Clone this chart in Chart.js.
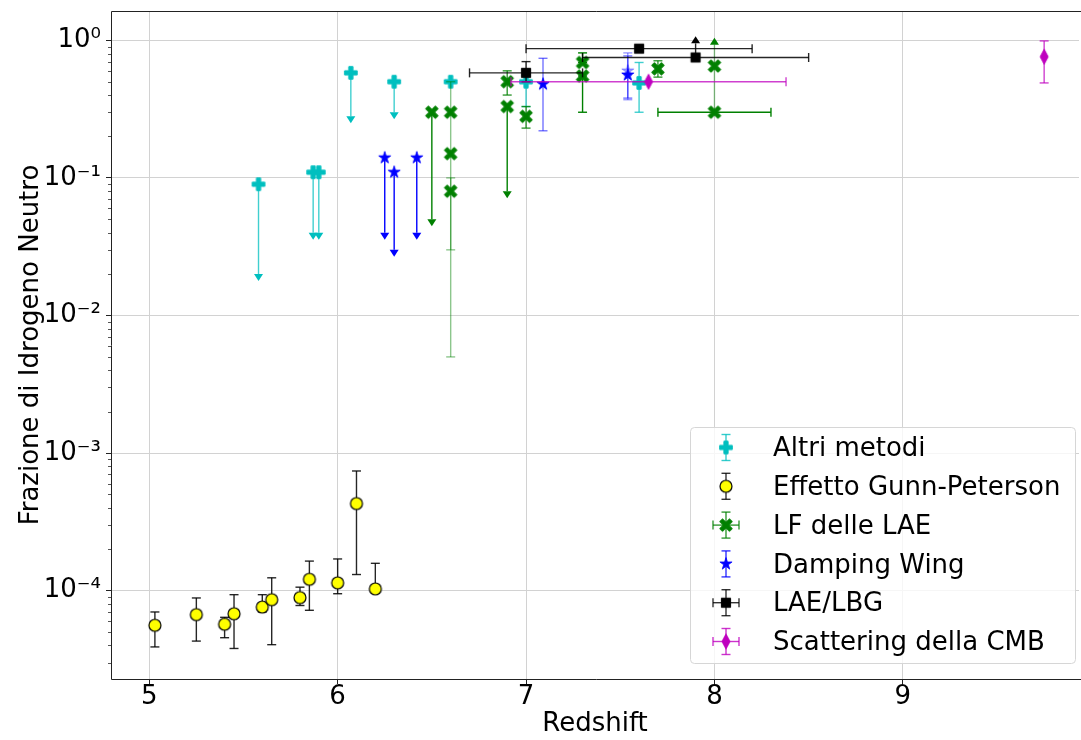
<!DOCTYPE html>
<html lang="it">
<head>
<meta charset="UTF-8">
<title>Frazione di Idrogeno Neutro vs Redshift</title>
<script src="https://cdn.jsdelivr.net/npm/chart.js"></script>
<style>
  html, body { margin: 0; padding: 0; background: #fff; overflow: hidden; }
  canvas { display: block; }
</style>
</head>
<body>
<canvas id="xhiChart" width="1081" height="740"></canvas>

<script>
  // ---- data: redshift, x_HI, errors (minus / plus), x-errors, limit flags ----
  // lim: 'upper' = upper limit (arrow down), 'lower' = lower limit (arrow up)

  // Altri metodi
  const altriZ   = [5.58, 5.87, 5.90, 6.07, 6.30, 6.60, 7.00, 7.60];
  const altriX   = [0.09, 0.11, 0.11, 0.58, 0.50, 0.50, 0.50, 0.49];
  const altriLo  = [0.07, 0.07, 0.07, 0.30, 0.20, 0,    0.17, 0.19];
  const altriHi  = [0,    0,    0,    0,    0,    0,    0.06, 0.20];
  const altriLim = ['upper', 'upper', 'upper', 'upper', 'upper', '', '', ''];

  // Effetto Gunn-Peterson
  const gpZ  = [5.03, 5.25, 5.40, 5.45, 5.60, 5.65, 5.80, 5.85, 6.00, 6.10, 6.20];
  const gpX  = [5.6e-5, 6.7e-5, 5.7e-5, 6.8e-5, 7.6e-5, 8.6e-5, 8.9e-5, 1.21e-4, 1.14e-4, 4.3e-4, 1.03e-4];
  const gpLo = [1.7e-5, 2.4e-5, 1.15e-5, 3.0e-5, 0.6e-5, 4.55e-5, 1.1e-5, 4.9e-5, 1.9e-5, 2.99e-4, 0.7e-5];
  const gpHi = [1.4e-5, 2.15e-5, 0.7e-5, 2.55e-5, 1.75e-5, 3.8e-5, 1.7e-5, 4.3e-5, 5.6e-5, 3.11e-4, 5.5e-5];

  // LF delle LAE
  const laeZ   = [6.5, 6.6, 6.6, 6.6, 6.9, 6.9, 7.0, 7.3, 7.3, 7.7, 8.0, 8.0];
  const laeX   = [0.30, 0.30, 0.15, 0.08, 0.50, 0.33, 0.28, 0.69, 0.55, 0.62, 0.65, 0.30];
  const laeLo  = [0.25, 0.295, 0, 0.05, 0.10, 0.25, 0.05, 0, 0.25, 0.08, 0.35, 0];
  const laeHi  = [0, 0.20, 0, 0.02, 0.10, 0, 0.05, 0.12, 0, 0.09, 0.28, 0];
  const laeXe  = [0, 0, 0, 0, 0, 0, 0, 0, 0, 0, 0, 0.3];
  const laeLim = ['upper', '', '', '', '', 'upper', '', '', '', '', 'lower', ''];

  // Damping Wing
  const dwZ   = [6.25, 6.30, 6.42, 7.09, 7.54, 7.54];
  const dwX   = [0.14, 0.11, 0.14, 0.48, 0.56, 0.60];
  const dwLo  = [0.10, 0.08, 0.10, 0.26, 0.18, 0.23];
  const dwHi  = [0,    0,    0,    0.26, 0.21, 0.21];
  const dwLim = ['upper', 'upper', 'upper', '', '', ''];

  // LAE/LBG
  const lbgZ   = [7.0, 7.6, 7.9];
  const lbgX   = [0.58, 0.87, 0.75];
  const lbgLo  = [0.08, 0, 0];
  const lbgHi  = [0.12, 0, 0.20];
  const lbgXe  = [0.3, 0.6, 0.6];
  const lbgLim = ['', '', 'lower'];

  // Scattering della CMB
  const cmbZ  = [7.65, 9.75];
  const cmbX  = [0.50, 0.76];
  const cmbLo = [0, 0.27];
  const cmbHi = [0, 0.23];
  const cmbXe = [0.73, 0];

  // axes
  const xTicks = [5, 6, 7, 8, 9];
  const yMajorTicks = [1e-4, 1e-3, 1e-2, 1e-1, 1];
  const yTickLabels = ['10\u207B\u2074', '10\u207B\u00B3', '10\u207B\u00B2', '10\u207B\u00B9', '10\u2070'];
  const X_MIN = 4.797, X_MAX = 9.935;
  const Y_MIN = 2.28e-5, Y_MAX = 1.633;

  // per-point opacity of the error bars
  const laeBarAlpha = [1, 0.45, 1, 0.45, 0.8, 1, 0.8, 1, 1, 0.8, 0.45, 1];
  const dwBarAlpha  = [1, 1, 1, 0.55, 0.55, 0.4];
  const dwFaint     = [false, false, false, false, false, true];

  const FONT = 'DejaVu Sans';
  Chart.defaults.font.family = FONT;
  Chart.defaults.font.size = 26;
  Chart.defaults.color = '#000';

  // ---- markers, drawn once on small canvases ----
  function makeMarker(paint, alpha) {
    const c = document.createElement('canvas');
    c.width = 20; c.height = 20;
    const g = c.getContext('2d');
    g.globalAlpha = alpha || 1;
    g.translate(10, 10);
    paint(g);
    return c;
  }

  function plusPath(g, half, arm) {
    g.beginPath();
    g.moveTo(-arm, -half); g.lineTo(arm, -half); g.lineTo(arm, -arm); g.lineTo(half, -arm);
    g.lineTo(half, arm); g.lineTo(arm, arm); g.lineTo(arm, half); g.lineTo(-arm, half);
    g.lineTo(-arm, arm); g.lineTo(-half, arm); g.lineTo(-half, -arm); g.lineTo(-arm, -arm);
    g.closePath();
  }

  function fillStroke(g, fill, stroke, lw) {
    g.fillStyle = fill; g.fill();
    g.strokeStyle = stroke; g.lineWidth = lw; g.lineJoin = 'miter'; g.stroke();
  }

  const plusMarker = makeMarker(g => { plusPath(g, 6.3, 2.1); fillStroke(g, '#00bfbf', '#00bfbf', 1); });
  const xMarker = makeMarker(g => { g.rotate(Math.PI / 4); plusPath(g, 6.8, 1.9); fillStroke(g, '#008000', '#008000', 1); });
  const circleMarker = makeMarker(g => { g.beginPath(); g.arc(0, 0, 6, 0, Math.PI * 2); fillStroke(g, '#ffff00', '#000', 1.2); });
  const squareMarker = makeMarker(g => { g.beginPath(); g.rect(-4.6, -4.6, 9.2, 9.2); fillStroke(g, '#000', '#000', 1); });
  const diamondMarker = makeMarker(g => {
    g.beginPath(); g.moveTo(0, -7.5); g.lineTo(4, 0); g.lineTo(0, 7.5); g.lineTo(-4, 0); g.closePath();
    fillStroke(g, '#bf00bf', '#bf00bf', 1);
  });
  function starPaint(g) {
    const R = 6.4, r = R * 0.382;
    g.beginPath();
    for (let k = 0; k < 10; k++) {
      const a = -Math.PI / 2 + k * Math.PI / 5;
      const rad = k % 2 ? r : R;
      g.lineTo(rad * Math.cos(a), rad * Math.sin(a));
    }
    g.closePath();
    fillStroke(g, '#0000ff', '#0000ff', 0.8);
  }
  const starMarker = makeMarker(starPaint);
  const starFaint = makeMarker(starPaint, 0.4);

  const series = [
    { label: 'Altri metodi', z: altriZ, v: altriX, lo: altriLo, hi: altriHi, lim: altriLim,
      marker: plusMarker, bar: '#00bfbf', alpha: 0.75 },
    { label: 'Effetto Gunn-Peterson', z: gpZ, v: gpX, lo: gpLo, hi: gpHi,
      marker: circleMarker, bar: '#000000', alpha: 0.85 },
    { label: 'LF delle LAE', z: laeZ, v: laeX, lo: laeLo, hi: laeHi, xe: laeXe, lim: laeLim,
      marker: xMarker, bar: '#008000', alpha: laeBarAlpha },
    { label: 'Damping Wing', z: dwZ, v: dwX, lo: dwLo, hi: dwHi, lim: dwLim,
      marker: starMarker, faint: dwFaint, bar: '#0000ff', alpha: dwBarAlpha },
    { label: 'LAE/LBG', z: lbgZ, v: lbgX, lo: lbgLo, hi: lbgHi, xe: lbgXe, lim: lbgLim,
      marker: squareMarker, bar: '#000000', alpha: 0.85 },
    { label: 'Scattering della CMB', z: cmbZ, v: cmbX, lo: cmbLo, hi: cmbHi, xe: cmbXe,
      marker: diamondMarker, bar: '#bf00bf', alpha: 0.75 }
  ];

  const pick = (a, i, d) => Array.isArray(a) ? a[i] : (a === undefined ? d : a);
  const isDecade = v => Math.abs(Math.log10(v) - Math.round(Math.log10(v))) < 1e-6;

  // ---- error bar helpers ----
  const CAP = 4.5;
  function seg(ctx, x1, y1, x2, y2) {
    ctx.beginPath(); ctx.moveTo(x1, y1); ctx.lineTo(x2, y2); ctx.stroke();
  }
  function capH(ctx, x, y) { seg(ctx, x - CAP, y, x + CAP, y); }
  function capV(ctx, x, y) { seg(ctx, x, y - CAP, x, y + CAP); }
  function arrowHead(ctx, x, y, dir) {
    // base sits on the bar end, tip points away (dir = 1 down, -1 up)
    ctx.save();
    ctx.globalAlpha = 1;
    ctx.beginPath();
    ctx.moveTo(x - 4.5, y); ctx.lineTo(x + 4.5, y); ctx.lineTo(x, y + dir * 7); ctx.closePath();
    ctx.fill();
    ctx.restore();
  }

  const errorBars = {
    id: 'errorBars',
    beforeDatasetDraw(chart, args) {
      const s = series[args.index];
      const xs = chart.scales.x, ys = chart.scales.y, ctx = chart.ctx;
      ctx.save();
      ctx.lineWidth = 1.4;
      ctx.strokeStyle = ctx.fillStyle = s.bar;
      s.z.forEach((z, i) => {
        ctx.globalAlpha = pick(s.alpha, i, 1);
        const px = xs.getPixelForValue(z);
        const py = ys.getPixelForValue(s.v[i]);
        const lo = s.lo[i], hi = s.hi[i];
        const lim = s.lim ? s.lim[i] : '';
        if (lo > 0 || hi > 0) {
          const yLo = ys.getPixelForValue(s.v[i] - lo);
          const yHi = ys.getPixelForValue(s.v[i] + hi);
          seg(ctx, px, yHi, px, yLo);
          if (lim === 'upper') {
            arrowHead(ctx, px, yLo, 1);
          } else if (lim === 'lower') {
            arrowHead(ctx, px, yHi, -1);
            if (lo > 0) capH(ctx, px, yLo);
          } else {
            capH(ctx, px, yLo);
            capH(ctx, px, yHi);
          }
        }
        const xe = s.xe ? s.xe[i] : 0;
        if (xe > 0) {
          const xL = xs.getPixelForValue(z - xe), xR = xs.getPixelForValue(z + xe);
          seg(ctx, xL, py, xR, py);
          capV(ctx, xL, py);
          capV(ctx, xR, py);
        }
      });
      ctx.restore();
    }
  };

  // spines (left, top, bottom) and minor ticks of the log axis
  const frame = {
    id: 'frame',
    afterDatasetsDraw(chart) {
      const {ctx, chartArea: a} = chart;
      const ys = chart.scales.y;
      ctx.save();
      ctx.strokeStyle = '#222';
      ctx.lineWidth = 1;
      ctx.beginPath();
      ctx.moveTo(a.right + 2, a.top + 0.5);
      ctx.lineTo(a.left + 0.5, a.top + 0.5);
      ctx.lineTo(a.left + 0.5, a.bottom + 0.5);
      ctx.lineTo(a.right + 2, a.bottom + 0.5);
      ctx.stroke();
      ctx.strokeStyle = '#555';
      ys.ticks.forEach(t => {
        if (isDecade(t.value)) return;
        const y = Math.round(ys.getPixelForValue(t.value)) + 0.5;
        seg(ctx, a.left - 3, y, a.left, y);
      });
      ctx.restore();
    }
  };

  // legend in the lower-right corner, with error-bar handles
  const legendBox = {
    id: 'legendBox',
    afterDraw(chart) {
      const {ctx, chartArea: a} = chart;
      const right = a.right - 4, bottom = a.bottom - 16;
      const w = 385, h = 236;
      const left = right - w, top = bottom - h;
      ctx.save();
      ctx.beginPath();
      ctx.roundRect(left + 0.5, top + 0.5, w, h, 4);
      ctx.fillStyle = 'rgba(255,255,255,0.8)';
      ctx.fill();
      ctx.strokeStyle = '#d6d6d6';
      ctx.lineWidth = 1;
      ctx.stroke();

      const hx = left + 36;
      ctx.font = '26px "' + FONT + '"';
      ctx.textBaseline = 'middle';
      series.forEach((s, i) => {
        const cy = top + 20.5 + i * 38.8;
        ctx.globalAlpha = 0.8;
        ctx.strokeStyle = ctx.fillStyle = s.bar;
        ctx.lineWidth = 1.4;
        seg(ctx, hx, cy - 13, hx, cy + 13);
        capH(ctx, hx, cy - 13);
        capH(ctx, hx, cy + 13);
        if (s.xe) {
          seg(ctx, hx - 13, cy, hx + 13, cy);
          capV(ctx, hx - 13, cy);
          capV(ctx, hx + 13, cy);
        }
        ctx.globalAlpha = 1;
        ctx.drawImage(s.marker, hx - 10, cy - 10);
        ctx.fillStyle = '#000';
        ctx.fillText(s.label, left + 83, cy + 2);
      });
      ctx.restore();
    }
  };

  new Chart(document.getElementById('xhiChart'), {
    type: 'scatter',
    data: {
      datasets: series.map((s, i) => ({
        label: s.label,
        data: s.z.map((z, k) => ({ x: z, y: s.v[k] })),
        pointStyle: c => (s.faint && s.faint[c.dataIndex]) ? starFaint : s.marker,
        pointRadius: 6,
        order: series.length - i
      }))
    },
    options: {
      responsive: false,
      animation: false,
      events: [],
      layout: { autoPadding: false, padding: { top: 11, right: 2, left: 0, bottom: 0 } },
      plugins: { legend: { display: false }, tooltip: { enabled: false } },
      scales: {
        x: {
          type: 'linear',
          min: X_MIN, max: X_MAX, bounds: 'data',
          afterBuildTicks: sc => { sc.ticks = xTicks.map(v => ({ value: v })); },
          afterFit: sc => { sc.height = 61; sc.paddingLeft = 0; sc.paddingRight = 0; },
          ticks: { autoSkip: false, maxRotation: 0, padding: -2, color: '#000', callback: v => String(v) },
          grid: { color: '#d2d2d2', lineWidth: 1, tickLength: 5, tickColor: '#222' },
          border: { display: false },
          title: { display: true, text: 'Redshift', color: '#000', padding: { top: 0, bottom: 0 } }
        },
        y: {
          type: 'logarithmic',
          min: Y_MIN, max: Y_MAX, bounds: 'data',
          afterBuildTicks: sc => {
            const t = [];
            for (let e = -5; e <= 0; e++) {
              for (let m = 1; m <= 9; m++) {
                const v = m * Math.pow(10, e);
                if (v >= Y_MIN && v <= Y_MAX) t.push({ value: v });
              }
            }
            sc.ticks = t;
          },
          afterFit: sc => { sc.width = 111; sc.paddingTop = 0; sc.paddingBottom = 0; },
          ticks: {
            autoSkip: false, padding: 5, color: '#000',
            callback: v => {
              const k = yMajorTicks.findIndex(m => Math.abs(m - v) / m < 1e-6);
              return k >= 0 ? yTickLabels[k] : '';
            }
          },
          grid: {
            color: c => (c.tick && isDecade(c.tick.value)) ? '#d2d2d2' : 'rgba(0,0,0,0)',
            tickColor: c => (c.tick && isDecade(c.tick.value)) ? '#222' : 'rgba(0,0,0,0)',
            lineWidth: 1, tickLength: 5
          },
          border: { display: false },
          title: { display: true, text: 'Frazione di Idrogeno Neutro', color: '#000', padding: { top: 16, bottom: 0 } }
        }
      }
    },
    plugins: [errorBars, frame, legendBox]
  });
</script>
</body>
</html>
